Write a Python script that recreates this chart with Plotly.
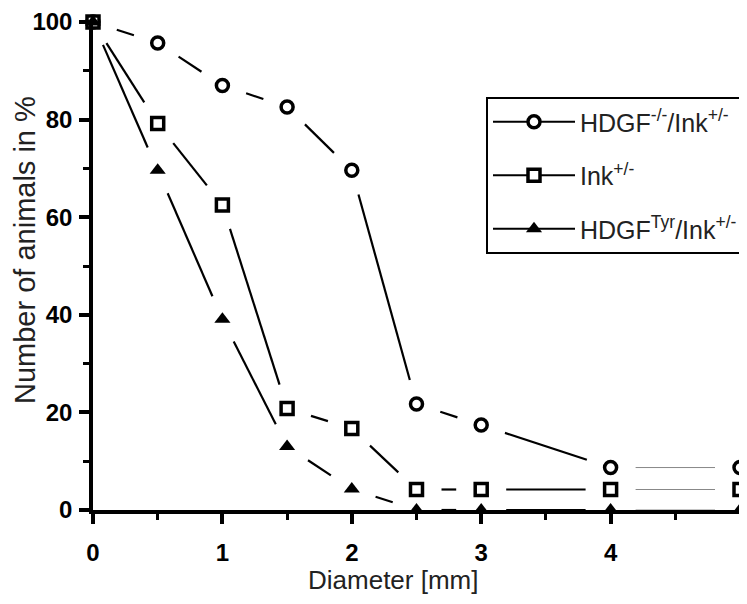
import plotly.graph_objects as go

# ---- data ----
diameter = [0, 0.5, 1, 1.5, 2, 2.5, 3, 4, 5]
hdgf_ko_ink = [100, 95.7, 87.0, 82.6, 69.6, 21.7, 17.4, 8.7, 8.7]
ink = [100, 79.2, 62.5, 20.8, 16.7, 4.2, 4.2, 4.2, 4.2]
hdgf_tyr_ink = [100, 69.6, 39.1, 13.0, 4.3, 0, 0, 0, 0]

names = ["HDGF<sup>-/-</sup>/Ink<sup>+/-</sup>", "Ink<sup>+/-</sup>", "HDGF<sup>Tyr</sup>/Ink<sup>+/-</sup>"]
series = [hdgf_ko_ink, ink, hdgf_tyr_ink]
symbols = ["circle", "square", "triangle-up"]

x_tick_vals = [0, 1, 2, 3, 4]
y_tick_vals = [0, 20, 40, 60, 80, 100]

# ---- layout geometry (page has an 8px body margin; figure is wider than the
# window so the legend, which runs off the right edge, does not push margins) ----
OFF = 8
W, H = 800, 604 - OFF
ML, MT = 93 - OFF, 22 - OFF
MR = W - (740 - OFF)
MB = H - (510 - OFF)
XR = [0, 5]
YR = [0, 100]
PW = W - ML - MR
PH = H - MT - MB
px_x = PW / (XR[1] - XR[0])
px_y = PH / (YR[1] - YR[0])
GAP = 25  # pixel gap between line ends and markers (GraphPad style)
GRAY_FROM = 4


def gapped(xs, ys):
    bx, by, gx, gy = [], [], [], []
    for i in range(len(xs) - 1):
        x0, y0, x1, y1 = xs[i], ys[i], xs[i + 1], ys[i + 1]
        dx = (x1 - x0) * px_x
        dy = (y1 - y0) * px_y
        d = (dx * dx + dy * dy) ** 0.5
        if d <= 2 * GAP:
            continue
        f = GAP / d
        sx = [x0 + (x1 - x0) * f, x1 - (x1 - x0) * f, None]
        sy = [y0 + (y1 - y0) * f, y1 - (y1 - y0) * f, None]
        if x0 >= GRAY_FROM:
            gx += sx
            gy += sy
        else:
            bx += sx
            by += sy
    return bx, by, gx, gy


def marker_style(sym):
    if sym == "triangle-up":
        return dict(symbol=sym, size=14, color="black", line=dict(width=0))
    return dict(symbol=sym, size=12, color="white", line=dict(color="black", width=3.5))


fig = go.Figure()

for ys in series:
    bx, by, gx, gy = gapped(diameter, ys)
    fig.add_trace(go.Scatter(x=bx, y=by, mode="lines", line=dict(color="black", width=2.2),
                             showlegend=False, hoverinfo="skip", cliponaxis=False))
    fig.add_trace(go.Scatter(x=gx, y=gy, mode="lines", line=dict(color="#888888", width=1),
                             showlegend=False, hoverinfo="skip", cliponaxis=False))

for ys, sym in zip(series, symbols):
    fig.add_trace(go.Scatter(x=diameter, y=ys, mode="markers", marker=marker_style(sym),
                             showlegend=False, cliponaxis=False))

for i, (nm, sym) in enumerate(zip(names, symbols)):
    fig.add_trace(go.Scatter(x=[None], y=[None], mode="lines+markers", name=nm, marker=marker_style(sym),
                             line=dict(color="black", width=2.2), legendgroup=f"g{i}"))

tick_font = dict(family="Liberation Sans, Arial", size=24, color="black")
title_col = "#222222"

fig.update_layout(
    width=W, height=H,
    margin=dict(l=ML, r=MR, t=MT, b=MB),
    plot_bgcolor="white", paper_bgcolor="white",
    showlegend=True,
    legend=dict(x=(486 - 93) / PW, y=(510 - 97) / PH,
                xanchor="left", yanchor="top",
                bordercolor="black", borderwidth=2, bgcolor="white",
                font=dict(family="Liberation Sans, Arial", size=25, color=title_col),
                traceorder="grouped", tracegroupgap=18, itemwidth=82),
    xaxis=dict(range=XR, showgrid=False, zeroline=False, showline=True, linecolor="black",
               linewidth=3.5, ticks="outside", ticklen=10, tickwidth=3.5, tickcolor="black",
               tickvals=x_tick_vals, ticktext=[f"<b>{v}</b>" for v in x_tick_vals],
               tickfont=tick_font, layer="above traces", automargin=False, ticklabelstandoff=8,
               minor=dict(tickvals=[0.5, 1.5, 2.5, 3.5, 4.5], ticklen=6, tickwidth=3, tickcolor="black", ticks="outside")),
    yaxis=dict(range=YR, showgrid=False, zeroline=False, showline=True, linecolor="black",
               linewidth=3.5, ticks="outside", ticklen=10, tickwidth=3.5, tickcolor="black",
               tickvals=y_tick_vals, ticktext=[f"<b>{v}</b>" for v in y_tick_vals],
               tickfont=tick_font, layer="above traces", automargin=False, ticklabelstandoff=2,
               minor=dict(tickvals=[10, 30, 50, 70, 90], ticklen=6, tickwidth=3, tickcolor="black", ticks="outside")),
    annotations=[
        dict(text="Diameter [mm]", xref="paper", yref="paper",
             x=(393 - 93) / PW, y=(510 - 580) / PH, xanchor="center", yanchor="middle",
             showarrow=False, font=dict(family="Liberation Sans, Arial", size=26, color=title_col)),
        dict(text="Number of animals in %", xref="paper", yref="paper", textangle=-90,
             x=(25 - 93) / PW, y=(510 - 250) / PH, xanchor="center", yanchor="middle",
             showarrow=False, borderpad=0,
             font=dict(family="Liberation Sans, Arial", size=29, color=title_col)),
    ],
)

fig.write_html("out.html")
